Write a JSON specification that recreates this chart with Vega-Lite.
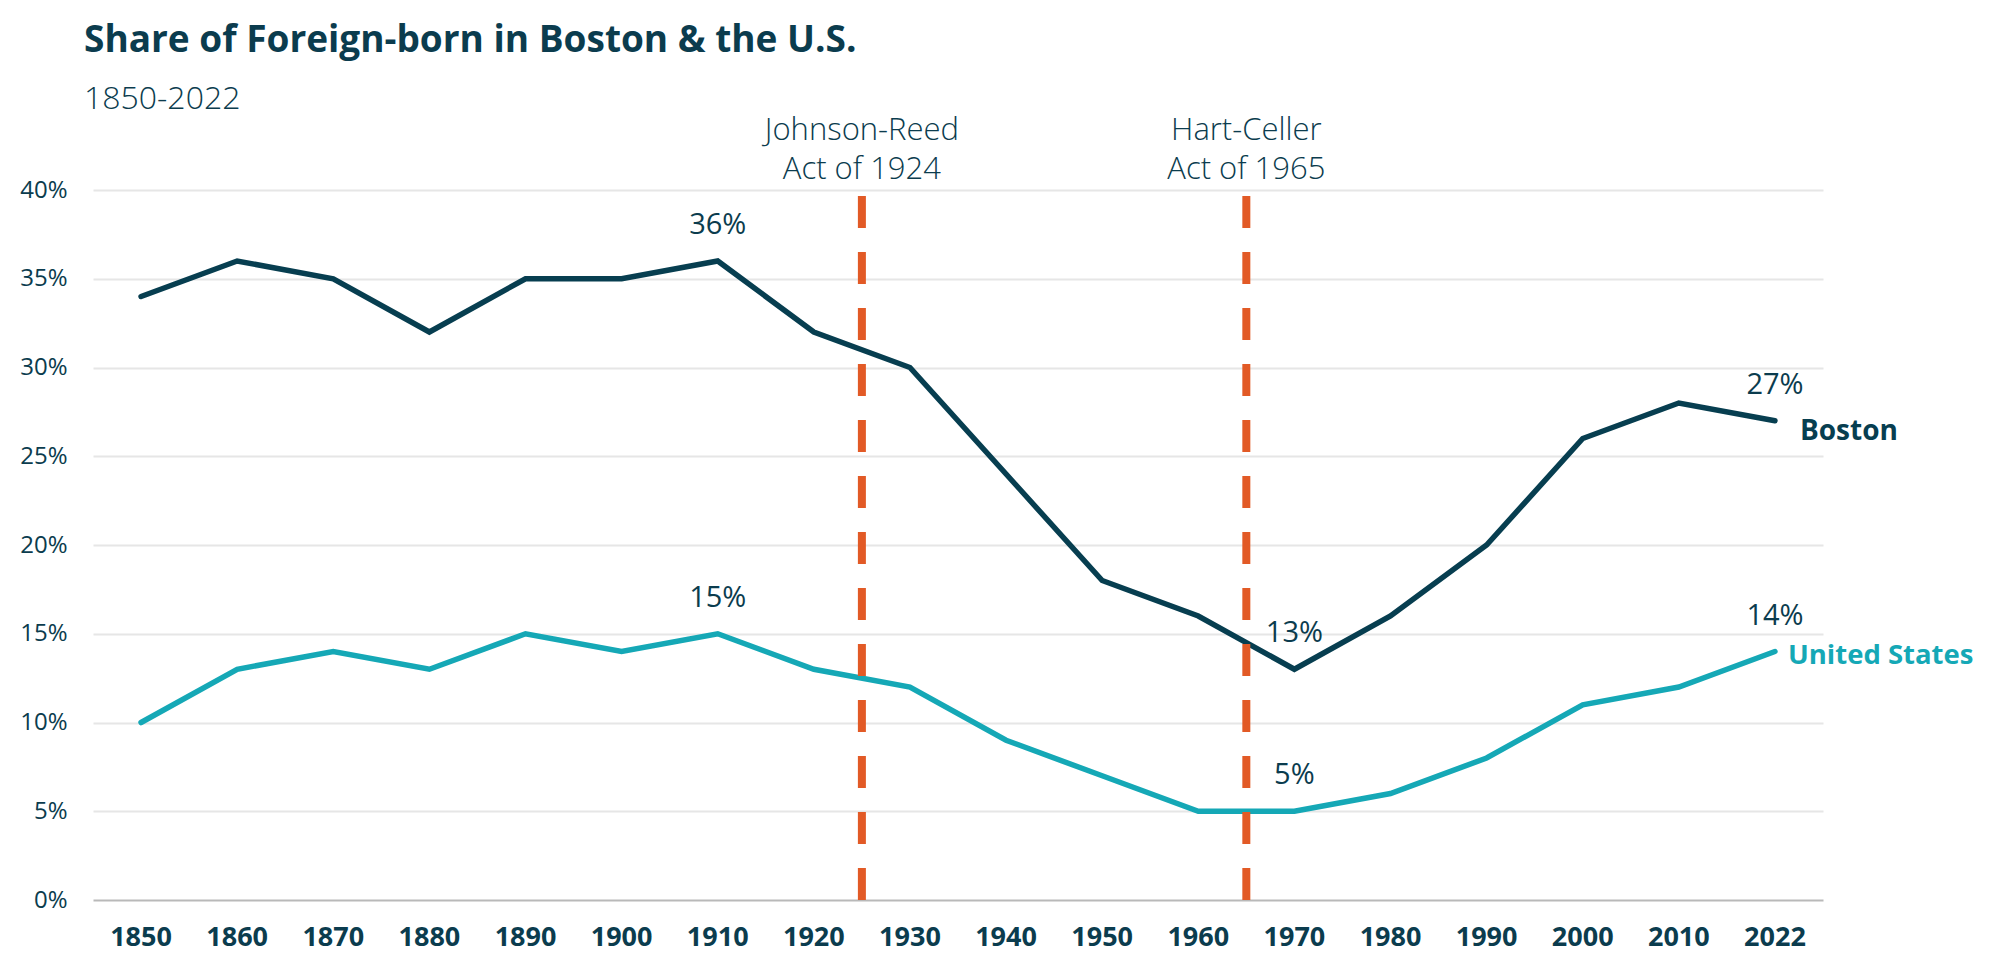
{
  "$schema": "https://vega.github.io/schema/vega-lite/v6.json",
  "width": 1730,
  "height": 710,
  "autosize": {"type": "none"},
  "padding": {"left": 93, "top": 190, "right": 169, "bottom": 54},
  "background": "white",
  "config": {
    "font": "Open Sans",
    "view": {"stroke": null},
    "axis": {"labelFont": "Open Sans", "labelColor": "#0b3c4e", "domain": false, "ticks": false, "title": null}
  },
  "title": {
    "text": "Share of Foreign-born in Boston & the U.S.",
    "subtitle": "1850-2022",
    "anchor": "start",
    "frame": "group",
    "dx": -9,
    "offset": -1,
    "font": "Open Sans",
    "fontSize": 37,
    "fontWeight": "bold",
    "color": "#0b3c4e",
    "subtitleFont": "Open Sans",
    "subtitleFontSize": 32,
    "subtitleFontWeight": 300,
    "subtitleColor": "#0b3c4e",
    "subtitlePadding": 24
  },
  "datasets": {
    "series": [
      {"year": 1850, "series": "Boston", "share": 34},
      {"year": 1860, "series": "Boston", "share": 36},
      {"year": 1870, "series": "Boston", "share": 35},
      {"year": 1880, "series": "Boston", "share": 32},
      {"year": 1890, "series": "Boston", "share": 35},
      {"year": 1900, "series": "Boston", "share": 35},
      {"year": 1910, "series": "Boston", "share": 36},
      {"year": 1920, "series": "Boston", "share": 32},
      {"year": 1930, "series": "Boston", "share": 30},
      {"year": 1940, "series": "Boston", "share": 24},
      {"year": 1950, "series": "Boston", "share": 18},
      {"year": 1960, "series": "Boston", "share": 16},
      {"year": 1970, "series": "Boston", "share": 13},
      {"year": 1980, "series": "Boston", "share": 16},
      {"year": 1990, "series": "Boston", "share": 20},
      {"year": 2000, "series": "Boston", "share": 26},
      {"year": 2010, "series": "Boston", "share": 28},
      {"year": 2022, "series": "Boston", "share": 27},
      {"year": 1850, "series": "United States", "share": 10},
      {"year": 1860, "series": "United States", "share": 13},
      {"year": 1870, "series": "United States", "share": 14},
      {"year": 1880, "series": "United States", "share": 13},
      {"year": 1890, "series": "United States", "share": 15},
      {"year": 1900, "series": "United States", "share": 14},
      {"year": 1910, "series": "United States", "share": 15},
      {"year": 1920, "series": "United States", "share": 13},
      {"year": 1930, "series": "United States", "share": 12},
      {"year": 1940, "series": "United States", "share": 9},
      {"year": 1950, "series": "United States", "share": 7},
      {"year": 1960, "series": "United States", "share": 5},
      {"year": 1970, "series": "United States", "share": 5},
      {"year": 1980, "series": "United States", "share": 6},
      {"year": 1990, "series": "United States", "share": 8},
      {"year": 2000, "series": "United States", "share": 11},
      {"year": 2010, "series": "United States", "share": 12},
      {"year": 2022, "series": "United States", "share": 14}
    ],
    "callouts": [
      {"year": 1910, "series": "Boston", "share": 36, "label": "36%"},
      {"year": 1970, "series": "Boston", "share": 13, "label": "13%"},
      {"year": 2022, "series": "Boston", "share": 27, "label": "27%"},
      {"year": 1910, "series": "United States", "share": 15, "label": "15%"},
      {"year": 1970, "series": "United States", "share": 5, "label": "5%"},
      {"year": 2022, "series": "United States", "share": 14, "label": "14%"}
    ],
    "events": [
      {"year": 1920, "label": "Johnson-Reed\nAct of 1924"},
      {"year": 1960, "label": "Hart-Celler\nAct of 1965"}
    ]
  },
  "layer": [
    {
      "data": {"name": "series"},
      "mark": {"type": "line", "strokeWidth": 5.5, "strokeJoin": "miter", "strokeCap": "round"},
      "encoding": {
        "x": {
          "field": "year",
          "type": "ordinal",
          "scale": {"type": "band", "paddingInner": 0, "paddingOuter": 0},
          "axis": {
            "labelAngle": 0,
            "labelFontSize": 27,
            "labelFontWeight": "bold",
            "labelPadding": 37,
            "labelBaseline": "middle",
            "grid": false
          }
        },
        "y": {
          "field": "share",
          "type": "quantitative",
          "scale": {"domain": [0, 40], "nice": false},
          "axis": {
            "values": [0, 5, 10, 15, 20, 25, 30, 35, 40],
            "labelExpr": "datum.value + '%'",
            "labelFontSize": 24,
            "labelPadding": 26,
            "grid": true,
            "gridWidth": 2,
            "gridColor": {"condition": {"test": "datum.value === 0", "value": "#b9b9b9"}, "value": "#e6e6e6"}
          }
        },
        "color": {
          "field": "series",
          "type": "nominal",
          "scale": {"domain": ["Boston", "United States"], "range": ["#073e50", "#15a8b6"]},
          "legend": null
        }
      }
    },
    {
      "data": {"name": "events"},
      "mark": {"type": "rule", "strokeWidth": 8, "strokeDash": [32, 24], "strokeDashOffset": 50, "color": "#e25a26"},
      "encoding": {
        "x": {"field": "year", "type": "ordinal", "bandPosition": 1}
      }
    },
    {
      "data": {"name": "events"},
      "mark": {"type": "text", "lineBreak": "\n", "fontSize": 31, "fontWeight": 300, "lineHeight": 39, "baseline": "middle", "align": "center", "color": "#0b3c4e"},
      "encoding": {
        "x": {"field": "year", "type": "ordinal", "bandPosition": 1},
        "y": {"datum": 43.3},
        "text": {"field": "label"}
      }
    },
    {
      "data": {"name": "callouts"},
      "mark": {"type": "text", "fontSize": 29, "dy": -36, "baseline": "middle", "align": "center", "color": "#0b3c4e"},
      "encoding": {
        "x": {"field": "year", "type": "ordinal"},
        "y": {"field": "share", "type": "quantitative"},
        "text": {"field": "label"}
      }
    },
    {
      "data": {"name": "callouts"},
      "transform": [{"filter": "datum.year === 2022 && datum.series === 'Boston'"}],
      "mark": {"type": "text", "fontSize": 28, "fontWeight": "bold", "dx": 25, "dy": 11, "baseline": "middle", "align": "left"},
      "encoding": {
        "x": {"field": "year", "type": "ordinal"},
        "y": {"field": "share", "type": "quantitative"},
        "text": {"field": "series"},
        "color": {"field": "series", "type": "nominal"}
      }
    },
    {
      "data": {"name": "callouts"},
      "transform": [{"filter": "datum.year === 2022 && datum.series === 'United States'"}],
      "mark": {"type": "text", "fontSize": 27.5, "fontWeight": "bold", "dx": 13, "dy": 4, "baseline": "middle", "align": "left"},
      "encoding": {
        "x": {"field": "year", "type": "ordinal"},
        "y": {"field": "share", "type": "quantitative"},
        "text": {"field": "series"},
        "color": {"field": "series", "type": "nominal"}
      }
    }
  ]
}
